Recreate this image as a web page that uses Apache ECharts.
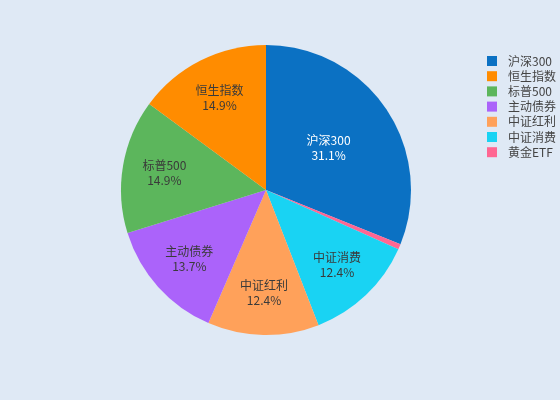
<!DOCTYPE html>
<html>
<head>
<meta charset="utf-8">
<script src="https://cdn.jsdelivr.net/npm/echarts@6/dist/echarts.min.js"></script>
<style>
  html, body { margin: 0; padding: 0; background: #dfe9f5; }
  #chart { width: 560px; height: 400px; }
</style>
</head>
<body>
<div id="chart"></div>
<script>
    // 扇区顺序(从12点方向顺时针)
    let names = ['沪深300', '黄金ETF', '中证消费', '中证红利', '主动债券', '标普500', '恒生指数'];
    let values = [31.1, 0.6, 12.4, 12.4, 13.7, 14.9, 14.9];
    let colors = ['#0b71c3', '#ff6692', '#19d3f3', '#ffa15a', '#ab63fa', '#5cb65c', '#ff8c00'];
    // 图例顺序
    let legendNames = ['沪深300', '恒生指数', '标普500', '主动债券', '中证红利', '中证消费', '黄金ETF'];

    let center = [266, 190];
    let R = 145;

    let chart = echarts.init(document.getElementById('chart'));

    // 大扇区标签放在半径中间, 其余靠外一点
    let mainData = names.map((n, i) => ({
        name: n,
        value: values[i],
        itemStyle: { color: colors[i] },
        label: { show: i === 0 }
    }));
    let overlayData = names.map((n, i) => ({
        name: n,
        value: values[i],
        label: { show: i !== 0 && values[i] > 5 }
    }));

    let labelStyle = {
        position: 'inside',
        formatter: p => p.name + '\n' + p.value.toFixed(1) + '%',
        fontSize: 12,
        lineHeight: 15,
        fontFamily: 'Noto Sans CJK SC',
        color: '#3a3a3a'
    };

    let option = {
        backgroundColor: '#dfe9f5',
        animation: false,
        legend: {
            data: legendNames,
            orient: 'vertical',
            left: 482,
            top: 50,
            itemWidth: 10,
            itemHeight: 10,
            itemGap: 3.2,
            icon: 'rect',
            textStyle: { fontSize: 12, color: '#444', fontFamily: 'Noto Sans CJK SC', padding: [0, 0, 0, 6] }
        },
        graphic: [
            {
                type: 'text', x: 118, y: 186, rotation: Math.PI / 180 * 38, silent: true,
                style: { text: 'Python数据之道', fontSize: 26, fill: 'rgba(0,0,0,0.06)', fontFamily: 'Noto Sans CJK SC' }
            },
            {
                type: 'text', x: 196, y: 250, rotation: Math.PI / 180 * 20, silent: true,
                style: { text: 'Python数据之道', fontSize: 26, fill: 'rgba(0,0,0,0.06)', fontFamily: 'Noto Sans CJK SC' }
            }
        ],
        series: [
            {
                type: 'pie',
                center: center,
                radius: [0, R],
                startAngle: 90,
                clockwise: true,
                avoidLabelOverlap: false,
                label: Object.assign({}, labelStyle, { color: '#fff' }),
                labelLine: { show: false },
                emphasis: { disabled: true },
                data: mainData
            },
            {
                type: 'pie',
                center: center,
                radius: [R * 0.38, R],
                startAngle: 90,
                clockwise: true,
                silent: true,
                avoidLabelOverlap: false,
                legendHoverLink: false,
                itemStyle: { color: 'rgba(0,0,0,0)' },
                label: labelStyle,
                labelLine: { show: false },
                data: overlayData
            }
        ]
    };

    chart.setOption(option);
</script>
</body>
</html>
